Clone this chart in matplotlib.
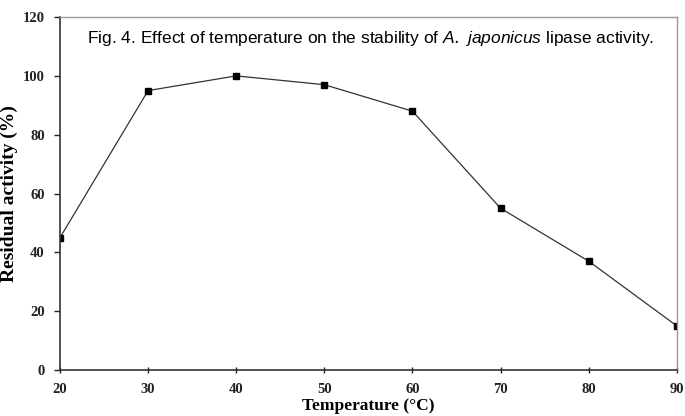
import matplotlib
matplotlib.use("Agg")
import matplotlib.pyplot as plt

# temperature (C) vs residual activity (%)
temps = [20, 30, 40, 50, 60, 70, 80, 90]
activity = [45, 95, 100, 97, 88, 55, 37, 15]
xticks = [20, 30, 40, 50, 60, 70, 80, 90]
yticks = [0, 20, 40, 60, 80, 100, 120]

plt.rcParams['mathtext.fontset'] = 'custom'
plt.rcParams['mathtext.it'] = 'Liberation Sans:italic'

fig = plt.figure(figsize=(6.85, 4.16), dpi=100)
ax = fig.add_axes([0.0876, 0.1106, 0.9004, 0.8484])

ax.plot(temps, activity, color='#333333', lw=0.9, marker='s', ms=4,
        mfc='black', mec='black')

ax.set_xlim(20, 90)
ax.set_ylim(0, 120)
ax.set_xticks(xticks)
ax.set_yticks(yticks)

serif = {'family': 'Liberation Serif', 'weight': 'bold'}
ax.set_xticklabels([str(t) for t in xticks], fontdict=dict(serif, size=10.5))
ax.set_yticklabels([str(t) for t in yticks], fontdict=dict(serif, size=10.5))
ax.tick_params(axis='y', direction='out', length=4, width=1, pad=7, colors='#222222')
ax.tick_params(axis='x', direction='inout', length=5, width=1, pad=7, colors='#222222')

for s in ['left', 'bottom']:
    ax.spines[s].set_color('#333333')
    ax.spines[s].set_linewidth(1.2)
for s in ['top', 'right']:
    ax.spines[s].set_color('#999999')
    ax.spines[s].set_linewidth(1.0)

ax.set_ylabel('Residual activity (%)', fontdict=dict(serif, size=14))
ax.yaxis.set_label_coords(-0.068, 0.5)
ax.set_xlabel('Temperature (\u00b0C)', fontdict=dict(serif, size=12.5))
ax.xaxis.set_label_coords(0.5, -0.078)

ax.text(0.503, 0.94, r'Fig. 4. Effect of temperature on the stability of $\mathit{A.}$ $\mathit{japonicus}$ lipase activity.',
        transform=ax.transAxes, ha='center', va='center',
        family='Liberation Sans', size=12.5)

fig.savefig('out.png', dpi=100)
